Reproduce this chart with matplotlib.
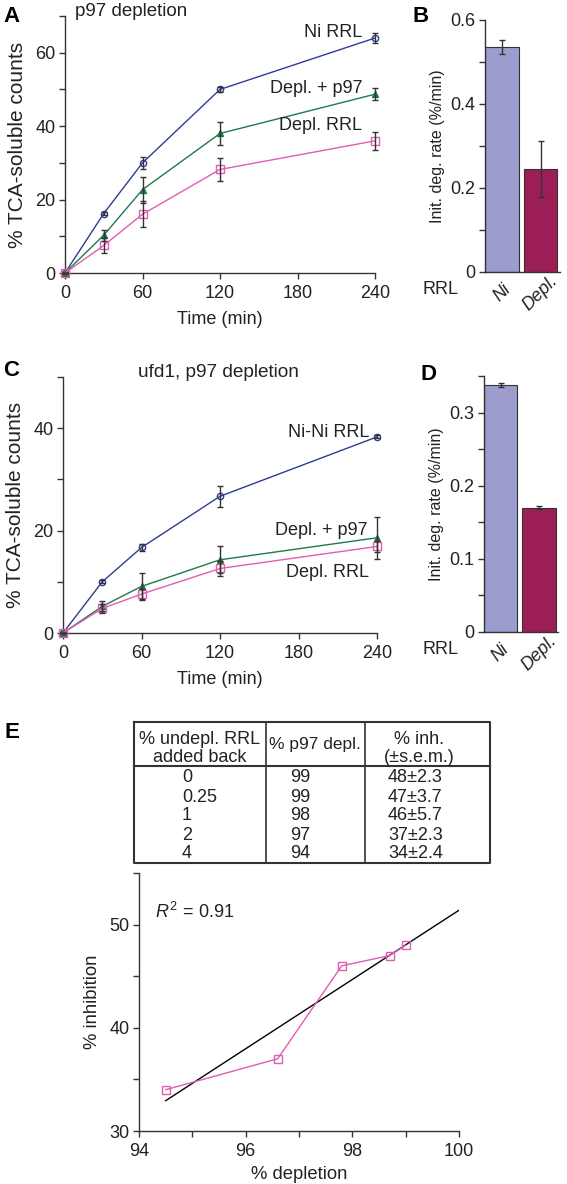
import numpy as np
import matplotlib
matplotlib.use("Agg")
import matplotlib.pyplot as plt
from matplotlib.ticker import MultipleLocator, FuncFormatter

plt.rcParams['font.family'] = ['Liberation Sans', 'DejaVu Sans']
plt.rcParams['mathtext.fontset'] = 'custom'
plt.rcParams['mathtext.rm'] = 'Liberation Sans'
plt.rcParams['mathtext.it'] = 'Liberation Sans:italic'

# ---------------- data ----------------
time_min = [0, 30, 60, 120, 240]

# Panel A: p97 depletion
a_ni = [0, 16.2, 30, 50, 64]
a_ni_err = [0, 0.4, 1.7, 0.6, 1.3]
a_addback = [0, 10.3, 22.7, 38, 48.7]
a_addback_err = [0, 1.5, 3.5, 3.1, 1.7]
a_depl = [0, 7.5, 16, 28.2, 36]
a_depl_err = [0, 2.0, 3.6, 3.2, 2.5]

# Panel C: ufd1, p97 depletion
c_ni = [0, 10, 16.7, 26.7, 38.3]
c_ni_err = [0, 0.3, 0.7, 2.0, 0.3]
c_addback = [0, 5.2, 9.1, 14.3, 18.6]
c_addback_err = [0, 1.0, 2.6, 2.6, 4.1]
c_depl = [0, 4.8, 7.6, 12.6, 16.9]
c_depl_err = [0, 0.8, 1.0, 1.5, 1.0]

# Panels B, D: initial degradation rates
bar_cats = ['Ni', 'Depl.']
b_rates = [0.535, 0.245]
b_err = [0.017, 0.067]
d_rates = [0.338, 0.170]
d_err = [0.003, 0.002]

# Panel E: table and regression
tab_added = ['0', '0.25', '1', '2', '4']
tab_depl = ['99', '99', '98', '97', '94']
tab_inh = ['48±2.3', '47±3.7', '46±5.7', '37±2.3', '34±2.4']
e_depletion = [94.5, 96.6, 97.8, 98.7, 99.0]
e_inhibition = [34, 37, 46, 47, 48]
r_squared = 0.91

# ---------------- styling ----------------
W, H = 567, 1184
fig = plt.figure(figsize=(W / 100, H / 100), dpi=100)

C_NI = '#2e3d91'
C_ADD = '#1f7a4a'
C_DEPL = '#df5fb2'
C_BAR1 = '#9c9cce'
C_BAR2 = '#9b1f56'
C_ERR = '#333333'
C_AX = '#333333'
FS = 13
TXT = '#222222'


def ax_px(l, t, r, b):
    return fig.add_axes([l / W, 1 - b / H, (r - l) / W, (b - t) / H])


def style(ax):
    for s in ('top', 'right'):
        ax.spines[s].set_visible(False)
    for s in ('left', 'bottom'):
        ax.spines[s].set_color(C_AX)
        ax.spines[s].set_linewidth(1.0)
    ax.tick_params(which='both', direction='out', color=C_AX, labelsize=FS,
                   labelcolor=TXT, width=1.0, length=4)
    ax.tick_params(axis='y', which='major', pad=3)
    ax.tick_params(axis='x', which='major', pad=5)


def fmt0(v, pos):
    return '0' if abs(v) < 1e-12 else f'{v:g}'


def line_panel(ax, series, ymax, ymajor):
    for y, err, color, marker, mfc, ms in series:
        ax.plot(time_min, y, color=color, lw=1.0, marker=marker, ms=ms,
                mfc=mfc, mec=color, mew=1.0, zorder=3, clip_on=False)
        ax.errorbar(time_min, y, yerr=err, fmt='none', ecolor=C_ERR,
                    elinewidth=1.0, capsize=2.5, capthick=1.0, zorder=4,
                    clip_on=False)
    ax.set_xlim(0, 240)
    ax.set_ylim(0, ymax)
    ax.set_xticks([0, 60, 120, 180, 240])
    ax.yaxis.set_major_locator(MultipleLocator(ymajor))
    ax.yaxis.set_minor_locator(MultipleLocator(ymajor / 2))
    ax.set_xlabel('Time (min)', fontsize=FS, labelpad=6, color=TXT)
    ax.set_ylabel('% TCA-soluble counts', fontsize=15, labelpad=6, color=TXT)
    style(ax)


def bar_panel(ax, rates, errs, ymax, major, minor):
    x = np.arange(len(bar_cats))
    ax.bar(x, rates, width=0.87, color=[C_BAR1, C_BAR2], edgecolor='#333333',
           linewidth=0.8, zorder=2)
    ax.errorbar(x, rates, yerr=errs, fmt='none', ecolor=C_ERR, elinewidth=1.0,
                capsize=2.5, capthick=1.0, zorder=3)
    ax.set_xlim(-0.435, 1.5)
    ax.set_ylim(0, ymax)
    ax.yaxis.set_major_locator(MultipleLocator(major))
    ax.yaxis.set_minor_locator(MultipleLocator(minor))
    ax.yaxis.set_major_formatter(FuncFormatter(fmt0))
    ax.set_xticks(x)
    ax.set_xticklabels(bar_cats, rotation=45, ha='center', va='center',
                       rotation_mode='anchor', fontstyle='italic')
    ax.set_ylabel('Init. deg. rate (%/min)', fontsize=11.5, labelpad=4, color=TXT)
    style(ax)
    ax.tick_params(axis='x', length=0, pad=15)


# ---------------- Panel A ----------------
axA = ax_px(65, 16, 375, 273)
line_panel(axA, [
    (a_ni, a_ni_err, C_NI, 'o', 'none', 4.5),
    (a_addback, a_addback_err, C_ADD, '^', C_ADD, 5),
    (a_depl, a_depl_err, C_DEPL, 's', 'none', 5.5),
], 70, 20)
axA.text(230, 65.4, 'Ni RRL', ha='right', va='center', fontsize=FS, color=TXT)
axA.text(230, 50.3, 'Depl. + p97', ha='right', va='center', fontsize=FS, color=TXT)
axA.text(230, 40.3, 'Depl. RRL', ha='right', va='center', fontsize=FS, color=TXT)
fig.text(75 / W, 1 - 12 / H, 'p97 depletion', fontsize=13.5, va='center', color=TXT)
fig.text(3 / W, 1 - 16 / H, 'A', fontsize=16, fontweight='bold', va='center')

# ---------------- Panel B ----------------
axB = ax_px(485, 20, 560, 272)
bar_panel(axB, b_rates, b_err, 0.6, 0.2, 0.1)
fig.text(441 / W, 1 - 290 / H, 'RRL', fontsize=FS, ha='center', va='center', color=TXT)
fig.text(413 / W, 1 - 17 / H, 'B', fontsize=16, fontweight='bold', va='center')

# ---------------- Panel C ----------------
axC = ax_px(63, 377, 377, 633)
line_panel(axC, [
    (c_ni, c_ni_err, C_NI, 'o', 'none', 4.5),
    (c_addback, c_addback_err, C_ADD, '^', C_ADD, 5),
    (c_depl, c_depl_err, C_DEPL, 's', 'none', 5.5),
], 50, 20)
axC.text(234, 39.2, 'Ni-Ni RRL', ha='right', va='center', fontsize=FS, color=TXT)
axC.text(233, 20.1, 'Depl. + p97', ha='right', va='center', fontsize=FS, color=TXT)
axC.text(234, 11.9, 'Depl. RRL', ha='right', va='center', fontsize=FS, color=TXT)
fig.text(138 / W, 1 - 372 / H, 'ufd1, p97 depletion', fontsize=13.7, va='center', color=TXT)
fig.text(3 / W, 1 - 370 / H, 'C', fontsize=16, fontweight='bold', va='center')

# ---------------- Panel D ----------------
axD = ax_px(484, 376, 558, 632)
bar_panel(axD, d_rates, d_err, 0.35, 0.1, 0.05)
fig.text(441 / W, 1 - 650 / H, 'RRL', fontsize=FS, ha='center', va='center', color=TXT)
fig.text(420 / W, 1 - 374 / H, 'D', fontsize=16, fontweight='bold', va='center')

# ---------------- Panel E: table ----------------
fig.text(4 / W, 1 - 732 / H, 'E', fontsize=16, fontweight='bold', va='center')
axT = ax_px(134, 722, 490, 863)
axT.set_xlim(134, 490)
axT.set_ylim(863, 722)
axT.axis('off')
axT.plot([134, 490, 490, 134, 134], [722, 722, 863, 863, 722], color='#333333',
         lw=1.5, clip_on=False)
axT.plot([134, 490], [766, 766], color='#333333', lw=1.5, clip_on=False)
for xv in (266, 365):
    axT.plot([xv, xv], [722, 863], color='#333333', lw=1.2, clip_on=False)
TFS = 13
axT.text(200, 740, '% undepl. RRL', ha='center', va='center', fontsize=TFS, color=TXT)
axT.text(200, 757, 'added back', ha='center', va='center', fontsize=TFS, color=TXT)
axT.text(315, 745, '% p97 depl.', ha='center', va='center', fontsize=12.5, color=TXT)
axT.text(419, 740, '% inh.', ha='center', va='center', fontsize=TFS, color=TXT)
axT.text(419, 757, '(±s.e.m.)', ha='center', va='center', fontsize=TFS, color=TXT)
for i in range(len(tab_added)):
    yy = 778 + i * 19
    axT.text(182, yy, tab_added[i], ha='left', va='center', fontsize=TFS, color=TXT)
    axT.text(290, yy, tab_depl[i], ha='left', va='center', fontsize=TFS, color=TXT)
    axT.text(388, yy, tab_inh[i], ha='left', va='center', fontsize=TFS, color=TXT)

# ---------------- Panel E: regression ----------------
axE = ax_px(139, 873, 459, 1131)
axE.plot(e_depletion, e_inhibition, color=C_DEPL, lw=1.0, marker='s', ms=5.5,
         mfc='none', mec=C_DEPL, mew=1.0, zorder=3)
slope, intercept = np.polyfit(e_depletion, e_inhibition, 1)
fx = np.array([min(e_depletion), 100.0])
axE.plot(fx, slope * fx + intercept, color='black', lw=1.0, zorder=2)
axE.text(94.3, 51.2, f'$R^2\\,=\\,{r_squared:.2f}$', ha='left', va='center',
         fontsize=FS, color=TXT)
axE.set_xlim(94, 100)
axE.set_ylim(30, 55)
axE.xaxis.set_major_locator(MultipleLocator(2))
axE.xaxis.set_minor_locator(MultipleLocator(1))
axE.yaxis.set_major_locator(MultipleLocator(10))
axE.yaxis.set_minor_locator(MultipleLocator(5))
axE.set_xlabel('% depletion', fontsize=13.3, labelpad=4, color=TXT)
axE.set_ylabel('% inhibition', fontsize=13.3, labelpad=6, color=TXT)
style(axE)

fig.savefig('out.png', dpi=100)
